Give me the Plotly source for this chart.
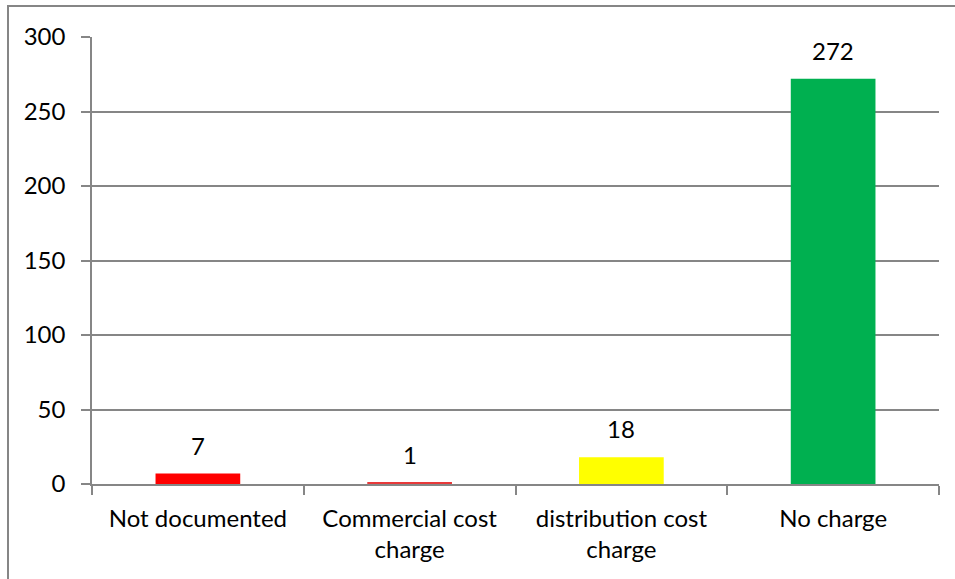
import plotly.graph_objects as go

categories = ["Not documented", "Commercial cost<br>charge", "distribution cost<br>charge", "No charge"]
values = [7, 1, 18, 272]
colors = ["#FF0000", "#E8393A", "#FFFF00", "#00B050"]
y_ticks = [0, 50, 100, 150, 200, 250, 300]

W, H = 955, 579
ml, mr, mt, mb = 92, 16, 37, 95
FS = 24

fig = go.Figure(go.Bar(x=categories, y=values, marker=dict(color=colors, line=dict(width=0)),
                       width=0.4, hoverinfo="x+y"))

for c, v in zip(categories, values):
    fig.add_annotation(x=c, y=v, text=str(v), showarrow=False, yanchor="bottom", yshift=12,
                       font=dict(size=FS, color="black"))

pw = W - ml - mr
ph = H - mt - mb
fig.add_shape(type="rect", xref="paper", yref="paper",
              x0=(8 - ml) / pw, x1=(W + 5 - ml) / pw,
              y0=-(H + 5 - mt - ph) / ph, y1=(ph + mt - 6) / ph,
              line=dict(color="#868686", width=2), fillcolor="rgba(0,0,0,0)", layer="below")

fig.update_layout(
    width=W, height=H, margin=dict(l=ml, r=mr, t=mt, b=mb),
    paper_bgcolor="white", plot_bgcolor="white", showlegend=False,
    font=dict(family="Lato, Open Sans, sans-serif", size=FS, color="black"),
    bargap=0.6,
)
fig.update_xaxes(showline=True, linecolor="#868686", linewidth=1.5, ticks="outside",
                 tickson="boundaries", ticklen=9, tickcolor="#868686", tickwidth=1.5,
                 showgrid=False, tickfont=dict(size=FS), ticklabelstandoff=12, fixedrange=True)
fig.update_yaxes(range=[0, 300], tickvals=y_ticks, showline=True, linecolor="#868686", linewidth=1.5,
                 ticks="outside", ticklen=9, tickcolor="#868686", tickwidth=1.5,
                 showgrid=True, gridcolor="#868686", gridwidth=1.5, zeroline=False,
                 tickfont=dict(size=FS), ticklabelstandoff=11, fixedrange=True)

fig.write_html("out.html", config={"displayModeBar": False},
               post_script="document.body.style.margin='0';document.body.style.overflow='hidden';")
